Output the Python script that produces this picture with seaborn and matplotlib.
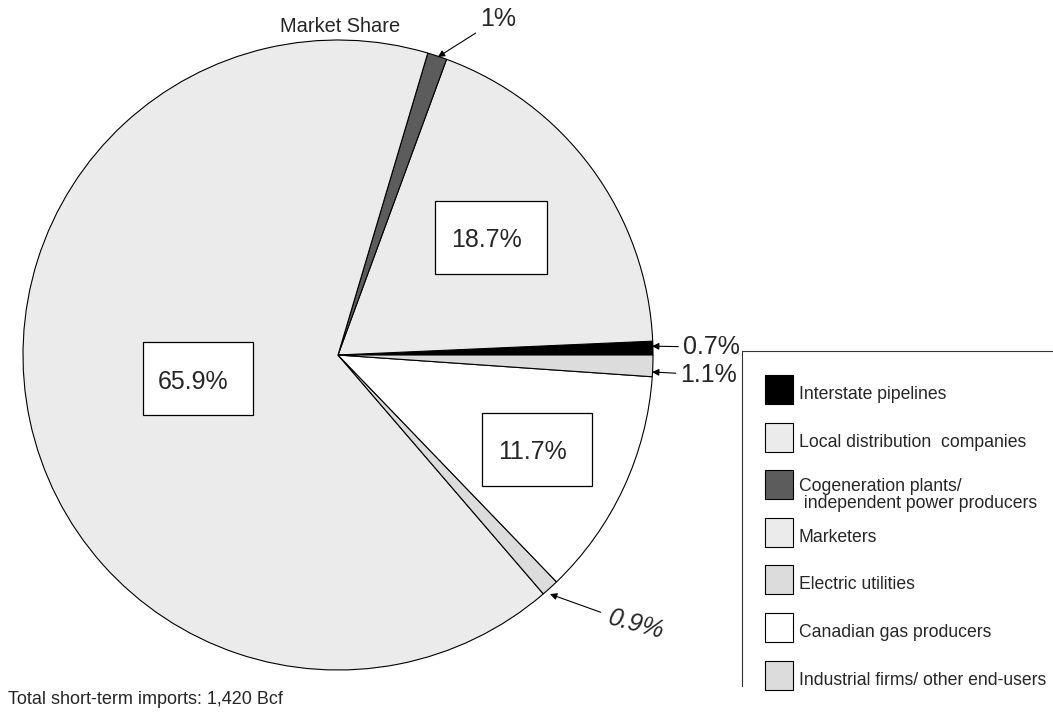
import matplotlib
matplotlib.use("Agg")
import matplotlib.pyplot as plt
import seaborn as sns
from matplotlib.patches import Rectangle
from matplotlib.lines import Line2D

sns.set_theme(style="white")
plt.rcParams['font.family'] = ['Liberation Sans', 'DejaVu Sans']

categories = ["Interstate pipelines", "Local distribution  companies",
              "Cogeneration plants/\n independent power producers", "Marketers",
              "Electric utilities", "Canadian gas producers",
              "Industrial firms/ other end-users"]
shares = [0.7, 18.7, 1.0, 65.9, 0.9, 11.7, 1.1]
labels = ["0.7%", "18.7%", "1%", "65.9%", "0.9%", "11.7%", "1.1%"]
colors = ["#000000", "#ebebeb", "#5c5c5c", "#ebebeb", "#dcdcdc", "#ffffff", "#dcdcdc"]

fig = plt.figure(figsize=(10.53, 7.13), dpi=100)
ax = fig.add_axes([23/1053, 43/713, 630/1053, 630/713])
ax.pie(shares, colors=colors, startangle=0, counterclock=True, radius=1,
       wedgeprops=dict(edgecolor="black", linewidth=0.8))
ax.set_xlim(-1, 1)
ax.set_ylim(-1, 1)
ax.set_aspect("equal")
ax.axis("off")

# boxed labels for the large slices: (index, box x0, y0, w, h, text x, text y)
boxed = [(1, 0.308, 0.257, 0.355, 0.232, 0.473, 0.365),
         (3, -0.619, -0.190, 0.349, 0.231, -0.460, -0.086),
         (5, 0.457, -0.416, 0.349, 0.232, 0.619, -0.308)]
for idx, x0, y0, w, h, tx, ty in boxed:
    ax.add_patch(Rectangle((x0, y0), w, h, facecolor="white", edgecolor="black",
                           linewidth=0.9, zorder=3))
    ax.text(tx, ty, labels[idx], fontsize=18, ha="center", va="center", zorder=4)

arrow = dict(arrowstyle="-|>", color="black", lw=0.8, mutation_scale=10,
             shrinkA=1, shrinkB=0)
ax.annotate(labels[2], xy=(0.317, 0.946), xytext=(0.451, 1.067), fontsize=18,
            ha="left", va="center", arrowprops=arrow, annotation_clip=False)
ax.annotate(labels[0], xy=(0.997, 0.028), xytext=(1.095, 0.025), fontsize=18,
            ha="left", va="center", arrowprops=arrow, annotation_clip=False)
ax.annotate(labels[6], xy=(0.997, -0.054), xytext=(1.087, -0.063), fontsize=18,
            ha="left", va="center", arrowprops=arrow, annotation_clip=False)
ax.annotate(labels[4], xy=(0.673, -0.759), xytext=(0.946, -0.857), fontsize=18,
            ha="center", va="center", rotation=-15, style="italic",
            arrowprops=arrow, annotation_clip=False)

ax.text(0.006, 1.043, "Market Share", fontsize=14.4, ha="center", va="center")
fig.text(8/1053, 1 - 700/713, "Total short-term imports: 1,420 Bcf", fontsize=13,
         ha="left", va="center")

# legend frame (top and left edges)
fig.add_artist(Line2D([742/1053, 1.0], [1 - 351/713, 1 - 351/713], color="#333333", lw=0.8))
fig.add_artist(Line2D([742/1053, 742/1053], [1 - 351/713, 1 - 686/713], color="#333333", lw=0.8))

W, H = 1053, 713
for i, (cat, col) in enumerate(zip(categories, colors)):
    top = 375 + i * 47.6
    fig.add_artist(Rectangle((765/W, 1 - (top + 29)/H), 28/W, 29/H,
                             facecolor=col, edgecolor="black", linewidth=0.8,
                             transform=fig.transFigure))
    cy = top + 14.5 + 5
    if "\n" in cat:
        cy = top + 14.5 + 10
    fig.text(799/W, 1 - cy/H, cat, fontsize=12.7, ha="left", va="center", linespacing=1.0)

fig.savefig("out.png", dpi=100)
